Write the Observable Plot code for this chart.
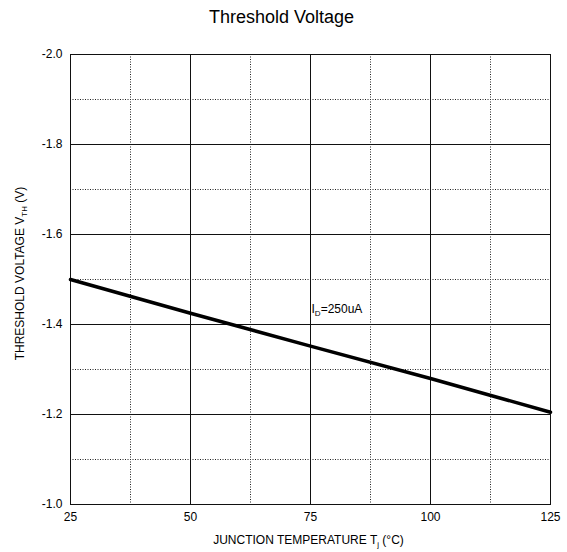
<!DOCTYPE html>
<html>
<head>
<meta charset="utf-8">
<script src="https://cdn.jsdelivr.net/npm/d3@7"></script>
<script src="https://cdn.jsdelivr.net/npm/@observablehq/plot@0.6"></script>
<style>
  html, body { margin: 0; padding: 0; background: #fff; }
  #chart svg { display: block; }
</style>
</head>
<body>
<div id="chart"></div>
<script>
// Data
const temps = [25, 50, 75, 100, 125];
const vth = [-1.500, -1.425, -1.352, -1.280, -1.205];
const xTicks = [25, 50, 75, 100, 125];
const yTicks = [-2.0, -1.8, -1.6, -1.4, -1.2, -1.0];
const majorX = [50, 75, 100];
const minorX = [37.5, 62.5, 87.5, 112.5];
const majorY = [-1.8, -1.6, -1.4, -1.2];
const minorY = [-1.9, -1.7, -1.5, -1.3, -1.1];
const curveLabel = [{t: 75, v: -1.435, text: "ID=250uA"}];
const titleText = "Threshold Voltage";
const xLabelText = "JUNCTION TEMPERATURE Tj (°C)";
const yLabelText = "THRESHOLD VOLTAGE VTH (V)";

const data = temps.map((t, i) => ({t, v: vth[i]}));

const chart = Plot.plot({
  width: 567,
  height: 552,
  marginLeft: 70,
  marginRight: 17,
  marginTop: 54,
  marginBottom: 48,
  style: {fontFamily: "'Liberation Sans', Arial, sans-serif", fontSize: "12px", color: "black", background: "white"},
  x: {domain: [25, 125]},
  y: {domain: [-1.0, -2.0]},
  marks: [
    Plot.ruleX(minorX, {stroke: "#222", strokeWidth: 1, strokeDasharray: "1,1.5"}),
    Plot.ruleY(minorY, {stroke: "#222", strokeWidth: 1, strokeDasharray: "1,1.5"}),
    Plot.ruleX(majorX, {stroke: "#111", strokeWidth: 1}),
    Plot.ruleY(majorY, {stroke: "#111", strokeWidth: 1}),
    Plot.frame({stroke: "#111", strokeWidth: 1}),
    Plot.axisX({ticks: xTicks, tickSize: 0, tickPadding: 8, label: null, tickFormat: d => String(d)}),
    Plot.axisY({ticks: yTicks, tickSize: 0, tickPadding: 8, label: null, tickFormat: d => d.toFixed(1)}),
    Plot.line(data, {x: "t", y: "v", stroke: "black", strokeWidth: 3.5}),
    Plot.text(curveLabel, {x: "t", y: "v", text: "text", textAnchor: "start", lineAnchor: "middle", dx: 1, fontSize: 12}),
    Plot.text([titleText], {frameAnchor: "top", text: d => d, lineAnchor: "middle", dy: -37, dx: -29, fontSize: 18}),
    Plot.text([xLabelText], {frameAnchor: "bottom", text: d => d, lineAnchor: "middle", dy: 36, dx: -2, fontSize: 12}),
    Plot.text([yLabelText], {frameAnchor: "left", text: d => d, rotate: -90, textAnchor: "middle", lineAnchor: "middle", dx: -50, dy: -6, fontSize: 12})
  ]
});

document.getElementById("chart").appendChild(chart);

// Add subscripts as real text (tspans)
function subscript(el, parts) {
  const sel = d3.select(el);
  sel.text(null);
  parts.forEach(([s, sub]) => {
    const ts = sel.append("tspan").text(s);
    if (sub === 1) ts.attr("font-size", "8px").attr("dy", "3");
    if (sub === -1) ts.attr("dy", "-3");
  });
}
d3.select(chart).selectAll("text").each(function() {
  const txt = this.textContent;
  if (txt === yLabelText) subscript(this, [["THRESHOLD VOLTAGE V", 0], ["TH", 1], [" (V)", -1]]);
  else if (txt === xLabelText) subscript(this, [["JUNCTION TEMPERATURE T", 0], ["j", 1], [" (°C)", -1]]);
  else if (txt === "ID=250uA") subscript(this, [["I", 0], ["D", 1], ["=250uA", -1]]);
});
</script>
</body>
</html>
